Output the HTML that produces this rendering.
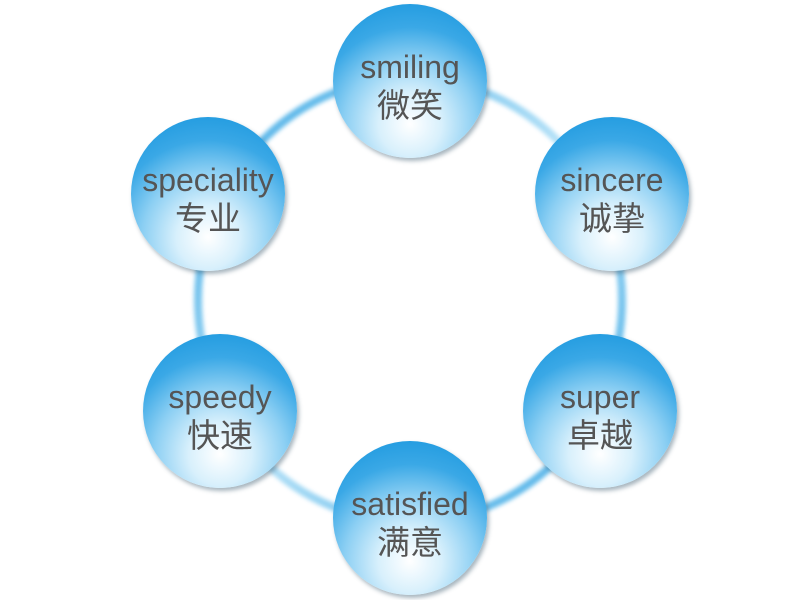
<!DOCTYPE html>
<html><head><meta charset="utf-8"><style>
body{margin:0;width:800px;height:600px;background:#fff;overflow:hidden;position:relative;font-family:"Liberation Sans","Noto Sans CJK SC",sans-serif}
.c{position:absolute;width:154px;height:154px;border-radius:50%;
background:radial-gradient(circle at 50% 78%,#ffffff 0%,#d8f0fc 22%,#8ccff3 46%,#3aa8e6 68%,#1293dc 100%);
box-shadow:2px 3px 4px rgba(60,90,110,0.45);color:#555;text-align:center}
.c .e{position:absolute;top:45px;left:-10px;right:-10px;font-size:32px;line-height:36px}
.c .z{position:absolute;top:83px;left:0;right:0;font-size:33px;line-height:38px}
</style></head><body>
<svg width="800" height="600" style="position:absolute;left:0;top:0">
<defs><filter id="b"><feGaussianBlur stdDeviation="2"/></filter>
<linearGradient id="g" x1="0" y1="0" x2="1" y2="1">
<stop offset="0" stop-color="#1f9be0"/><stop offset="0.5" stop-color="#a8dcf6"/><stop offset="1" stop-color="#1f9be0"/></linearGradient></defs>
<ellipse cx="410" cy="300" rx="212" ry="222" fill="none" stroke="url(#g)" stroke-width="8" filter="url(#b)" opacity="0.85"/>
</svg>
<div class="c" style="left:333px;top:4px"><div class="e">smiling</div><div class="z">微笑</div></div>
<div class="c" style="left:535px;top:117px"><div class="e">sincere</div><div class="z">诚挚</div></div>
<div class="c" style="left:523px;top:334px"><div class="e">super</div><div class="z">卓越</div></div>
<div class="c" style="left:333px;top:441px"><div class="e">satisfied</div><div class="z">满意</div></div>
<div class="c" style="left:143px;top:334px"><div class="e">speedy</div><div class="z">快速</div></div>
<div class="c" style="left:131px;top:117px"><div class="e">speciality</div><div class="z">专业</div></div>
</body></html>
